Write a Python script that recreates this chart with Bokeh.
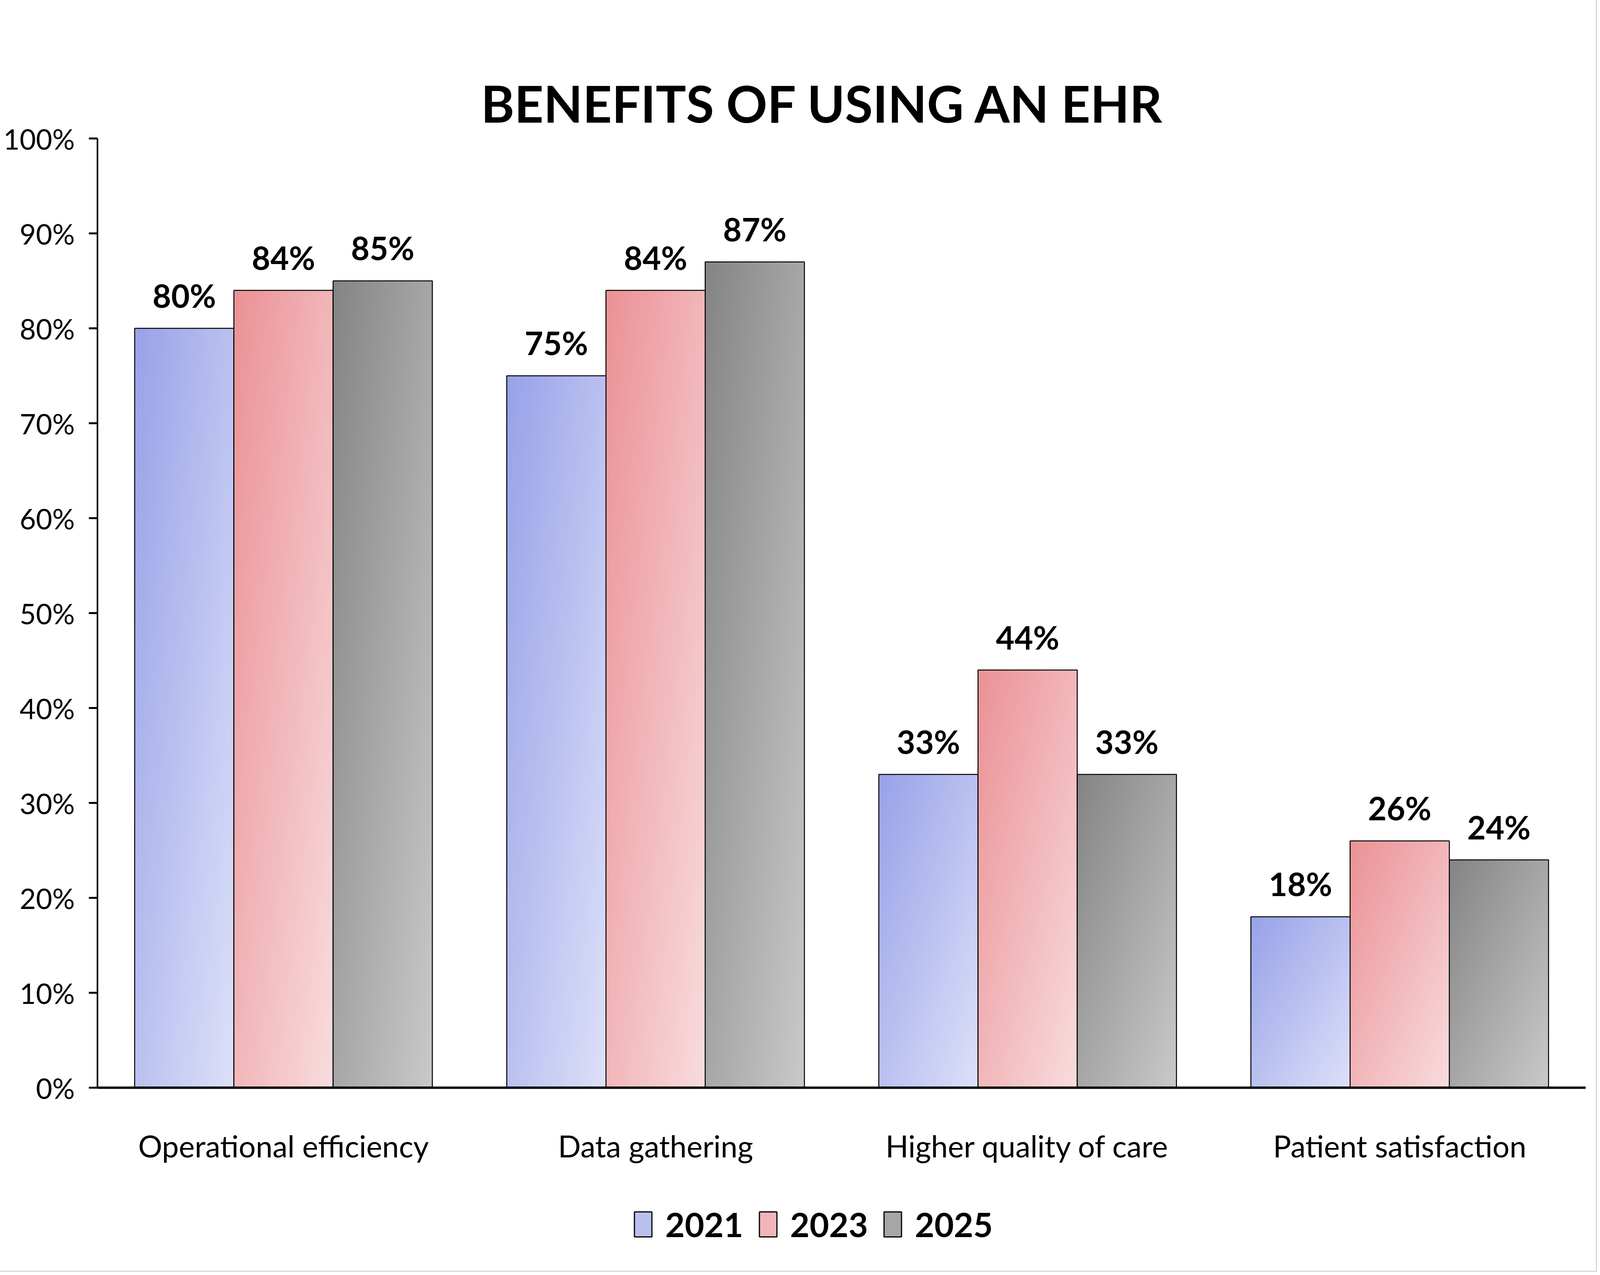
import numpy as np
from bokeh.plotting import figure
from bokeh.models import (Range1d, FactorRange, Label, Legend, LegendItem,
                          FixedTicker, NumeralTickFormatter)
from bokeh.core.properties import value
from bokeh.embed import file_html
from bokeh.resources import INLINE

# ---------------- data ----------------
categories = ["Operational efficiency", "Data gathering",
              "Higher quality of care", "Patient satisfaction"]
years = ["2021", "2023", "2025"]
v2021 = [0.80, 0.75, 0.33, 0.18]
v2023 = [0.84, 0.84, 0.44, 0.26]
v2025 = [0.85, 0.87, 0.33, 0.24]
y_ticks = [0.0, 0.1, 0.2, 0.3, 0.4, 0.5, 0.6, 0.7, 0.8, 0.9, 1.0]
title_text = "BENEFITS OF USING AN EHR"

series = [v2021, v2023, v2025]

# ---------------- style ----------------
FONT = "Lato"
grad_start = [(0x97, 0xA2, 0xE8), (0xEB, 0x91, 0x95), (0x84, 0x84, 0x84)]
grad_end = [(0xDD, 0xE0, 0xF8), (0xF8, 0xDC, 0xDE), (0xC9, 0xC9, 0xC9)]
legend_fill = ["#B9C0F0", "#F1B6B9", "#A6A6A6"]

W, H = 4080, 3248
UNIT = 2430          # px for 0..100 %
TOP = 354            # px above 100 %
BOTTOM = H - TOP - UNIT
LEFT, RIGHT = 249, 21
BASE_SHIFT = 0.4     # alphabetic-baseline correction, in em

LABEL_FS = 82
TITLE_FS = 130
group_width = 0.8
bw = group_width / len(series)


def gradient(c0, c1, n=200):
    img = np.empty((n, n), dtype=np.uint32)
    view = img.view(dtype=np.uint8).reshape((n, n, 4))
    u = np.linspace(0, 1, n)[None, :]
    v = 1 - np.linspace(0, 1, n)[:, None]
    t = (u + v) / 2.0
    for k in range(3):
        view[:, :, k] = np.round(c0[k] + (c1[k] - c0[k]) * t).astype(np.uint8)
    view[:, :, 3] = 255
    return img


p = figure(width=W, height=H,
           x_range=FactorRange(factors=categories, range_padding=0),
           y_range=Range1d(-BOTTOM / UNIT, 1 + TOP / UNIT),
           output_backend="svg", toolbar_location=None,
           min_border_left=LEFT, min_border_right=RIGHT,
           min_border_top=0, min_border_bottom=0)
p.outline_line_color = None
p.xgrid.grid_line_color = None
p.ygrid.grid_line_color = None
p.styles = {"outline": "3px solid #D9D9D9", "outline-offset": "5px"}

legend_items = []
for j, (vals, yr) in enumerate(zip(series, years)):
    img = gradient(grad_start[j], grad_end[j])
    centers = [i + 0.5 + (j - 1) * bw for i in range(len(categories))]
    lefts = [c - bw / 2 for c in centers]
    p.image_rgba(image=[img] * len(vals), x=lefts, y=[0] * len(vals),
                 dw=[bw] * len(vals), dh=vals)
    p.vbar(x=centers, top=vals, width=bw, bottom=0,
           fill_alpha=0, line_color="black", line_width=2.5)
    p.text(x=centers,
           y=[v + (52 + BASE_SHIFT * LABEL_FS) / UNIT for v in vals],
           text=[f"{round(v * 100)}%" for v in vals],
           text_align="center", text_baseline="alphabetic",
           text_font=value(FONT), text_font_style="bold",
           text_font_size=f"{LABEL_FS}px", text_color="black")
    # legend swatch renderer: one bar placed outside the visible x range
    dummy = p.vbar(x=[-5], top=[vals[0]], width=bw, fill_color=legend_fill[j],
                   line_color="black", line_width=3)
    legend_items.append(LegendItem(label=yr, renderers=[dummy]))

xa = p.xaxis[0]
xa.fixed_location = 0
xa.axis_line_width = 6
xa.axis_line_color = "black"
xa.major_tick_line_color = None
xa.minor_tick_line_color = None
xa.major_label_text_font = FONT
xa.major_label_text_font_size = "77px"
xa.major_label_text_color = "black"
xa.major_label_standoff = 96

ya = p.yaxis[0]
ya.ticker = FixedTicker(ticks=y_ticks)
ya.formatter = NumeralTickFormatter(format="0%")
ya.bounds = (0, 1)
ya.axis_line_width = 4
ya.axis_line_color = "black"
ya.major_tick_in = 0
ya.major_tick_out = 22
ya.major_tick_line_width = 5
ya.major_tick_line_color = "black"
ya.minor_tick_line_color = None
ya.major_label_text_font = FONT
ya.major_label_text_font_size = "72px"
ya.major_label_text_color = "black"
ya.major_label_standoff = 36

p.add_layout(Label(x=1.95, y=1 + (39 + BASE_SHIFT * TITLE_FS) / UNIT,
                   text=title_text,
                   text_align="center", text_baseline="alphabetic",
                   text_font=FONT, text_font_style="bold",
                   text_font_size=f"{TITLE_FS}px", text_color="black"))

legend = Legend(items=legend_items, orientation="horizontal",
                location=(1369, 63), glyph_width=56, glyph_height=80,
                label_standoff=29, spacing=35, padding=0, margin=0,
                border_line_alpha=0, background_fill_alpha=0,
                label_text_font=FONT, label_text_font_style="bold",
                label_text_font_size="86px", label_text_color="black")
p.add_layout(legend)

open("out.html", "w").write(file_html(p, INLINE))
